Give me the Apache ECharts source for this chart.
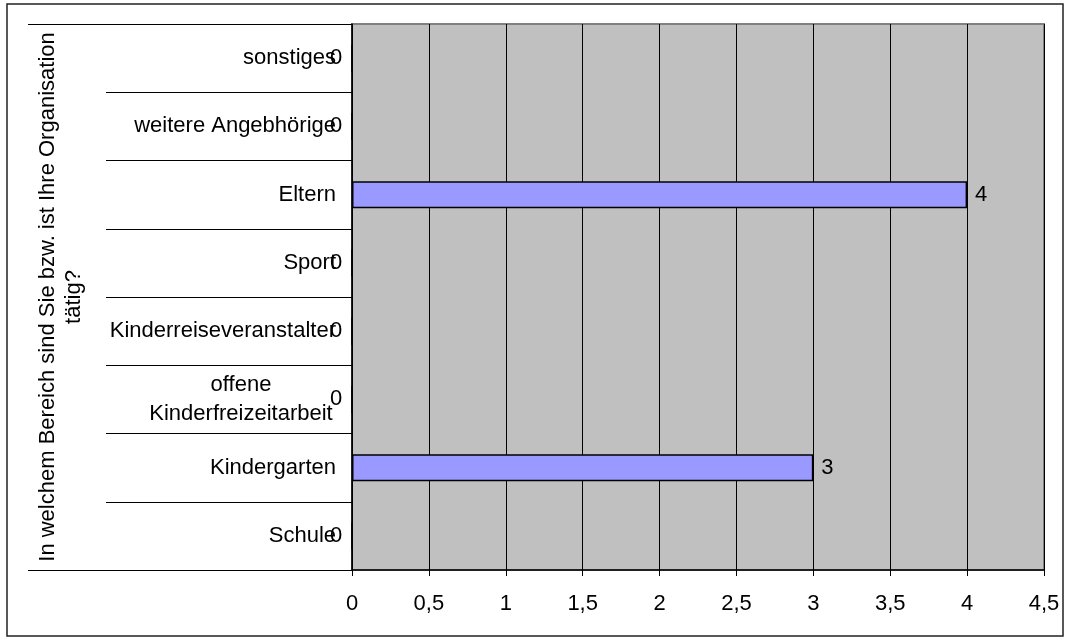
<!DOCTYPE html>
<html>
<head>
<meta charset="utf-8">
<script src="https://cdn.jsdelivr.net/npm/echarts@6/dist/echarts.min.js"></script>
<style>
html,body{margin:0;padding:0;background:#fff;}
#c{width:1070px;height:643px;}
</style>
</head>
<body>
<div id="c"></div>
<script>
const categories = ['Schule', 'Kindergarten', 'offene\nKinderfreizeitarbeit', 'Kinderreiseveranstalter', 'Sport', 'Eltern', 'weitere Angebhörige', 'sonstiges'];
const values = [0, 3, 0, 0, 0, 4, 0, 0];
const axisTitle = 'In welchem Bereich sind Sie bzw. ist Ihre Organisation\ntätig?';
const xMin = 0, xMax = 4.5, xStep = 0.5;

const FONT = 'Liberation Sans, Arial, sans-serif';
const FS = 22;
const chart = echarts.init(document.getElementById('c'), null, {renderer: 'canvas'});

const seriesData = values.map(v => v === 0
  ? {value: v, label: {position: 'left', distance: 9}}
  : {value: v});

chart.setOption({
  animation: false,
  backgroundColor: '#ffffff',
  textStyle: {fontFamily: FONT},
  graphic: [{
    type: 'rect', shape: {x: 7, y: 4, width: 1056, height: 632},
    style: {fill: 'none', stroke: '#222', lineWidth: 1.5}, silent: true, z: -1
  }],
  grid: {
    left: 352, top: 24, right: 26, bottom: 73,
    show: true, backgroundColor: '#C0C0C0', borderColor: '#808080', borderWidth: 2,
    containLabel: false
  },
  xAxis: {
    type: 'value', min: xMin, max: xMax, interval: xStep,
    axisLine: {show: true, onZero: false, lineStyle: {color: '#000', width: 1.5}},
    axisTick: {show: true, length: 6, lineStyle: {color: '#000'}},
    axisLabel: {
      color: '#000', fontSize: FS, fontFamily: FONT, margin: 23,
      formatter: v => String(v).replace('.', ',')
    },
    splitLine: {show: true, lineStyle: {color: '#000', width: 1}}
  },
  yAxis: [{
    type: 'category', data: categories, boundaryGap: true,
    axisLine: {show: true, lineStyle: {color: '#000', width: 1.5}},
    axisTick: {show: true, length: 246, lineStyle: {color: '#000', width: 1}},
    axisLabel: {
      color: '#000', fontSize: FS, fontFamily: FONT, margin: 16, lineHeight: 29,
      formatter: function (v) {
        if (v.indexOf('\n') >= 0) {
          return v.split('\n').map(s => '{c|' + s + '}').join('\n');
        }
        return v;
      },
      rich: {c: {width: 190, align: 'center', fontSize: FS, fontFamily: FONT, color: '#000', lineHeight: 29}}
    },
    splitLine: {show: false},
    name: axisTitle, nameLocation: 'middle', nameRotate: 90, nameGap: 265,
    nameTextStyle: {color: '#000', fontSize: FS, fontFamily: FONT, lineHeight: 26, align: 'center'}
  }, {
    type: 'category', data: categories, boundaryGap: true, position: 'left',
    axisLine: {show: false},
    axisTick: {show: true, length: 324, interval: function (i) { return i === 0; }, lineStyle: {color: '#000', width: 1}},
    axisLabel: {show: false},
    splitLine: {show: false}
  }],
  series: [{
    type: 'bar', data: seriesData, barWidth: 27, yAxisIndex: 0,
    itemStyle: {color: '#9999FF', borderColor: '#000', borderWidth: 1.5},
    label: {
      show: true, color: '#000', fontSize: FS, fontFamily: FONT,
      position: 'right', distance: 8,
      formatter: p => String(p.value)
    }
  }]
});
</script>
</body>
</html>
